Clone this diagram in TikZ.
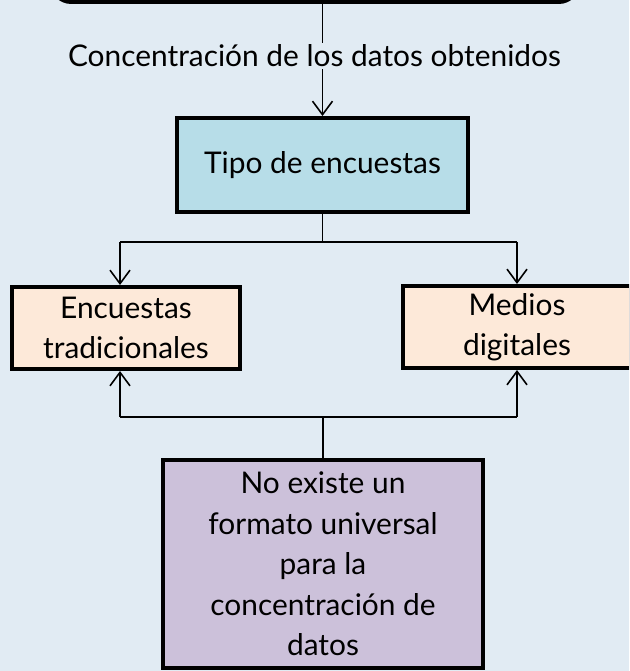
\documentclass[tikz,border=0pt]{standalone}
\usepackage{fontspec}
\setmainfont{Lato}
\usetikzlibrary{
    arrows.meta,
    positioning,
    calc
}
\definecolor{bgcol}{HTML}{E1EBF3}
\definecolor{tipocol}{HTML}{B7DDE8}
\definecolor{catcol}{HTML}{FDE9D9}
\definecolor{notecol}{HTML}{CCC1DA}

\begin{document}
\begin{tikzpicture}[
    x=0.02cm, y=-0.02cm,
    font=\fontsize{17}{23}\selectfont,
    % ── Node Styles ──
    mod/.style={
        draw, line width=2.3pt,
        align=center, inner sep=3pt
    },
    tipobox/.style={mod, fill=tipocol, minimum width=5.82cm, minimum height=1.88cm},
    catbox/.style={mod, fill=catcol, minimum width=4.56cm, minimum height=1.64cm},
    notebox/.style={mod, fill=notecol, minimum width=6.4cm, minimum height=4.16cm},
    % ── Arrow Styles ──
    line/.style={line width=0.9pt},
    arr/.style={line, -{Straight Barb[length=0.27cm, width=0.4cm]}},
]

% Background and frame
\fill[bgcol] (0,0) rectangle (629,671);
\clip (0,0) rectangle (629,671);

% ────────────────────────────────
%  TOP (cut off by the frame)
% ────────────────────────────────
\node[fill=black, rounded corners=12pt, minimum width=10.6cm, minimum height=1cm]
    (top) at (315,-21) {};

\node[inner sep=1pt] (conc) at (314.5,56) {Concentración de los datos obtenidos};

% ────────────────────────────────
%  SURVEY TYPES
% ────────────────────────────────
\node[tipobox] (tipo) at (322.5,165) {Tipo de encuestas};

\node[catbox] (trad) at (126,328) {Encuestas\\tradicionales};
\node[catbox] (digi) at (517,327) {Medios\\digitales};

% ────────────────────────────────
%  NOTE
% ────────────────────────────────
\node[notebox] (nota) at (323,564) {
    No existe un\\
    formato universal\\
    para la\\
    concentración de\\
    datos
};

% Split / join points
\coordinate (splitL) at (120,242);
\coordinate (splitR) at (517,242);
\coordinate (joinL) at (120,417);
\coordinate (joinR) at (517,417);

% ── Connectors ──
\draw[line] (top.south -| tipo.north) -- (tipo.north |- conc.north);
\draw[arr] (conc.south -| tipo.north) -- (tipo.north);

\draw[line] (tipo.south) -- (tipo.south |- splitL);
\draw[line] (splitL) -- (splitR);
\draw[arr] (splitL) -- (splitL |- trad.north);
\draw[arr] (splitR) -- (splitR |- digi.north);

\draw[line] (nota.north) -- (nota.north |- joinL);
\draw[line] (joinL) -- (joinR);
\draw[arr] (joinL) -- (joinL |- trad.south);
\draw[arr] (joinR) -- (joinR |- digi.south);

\end{tikzpicture}
\end{document}
